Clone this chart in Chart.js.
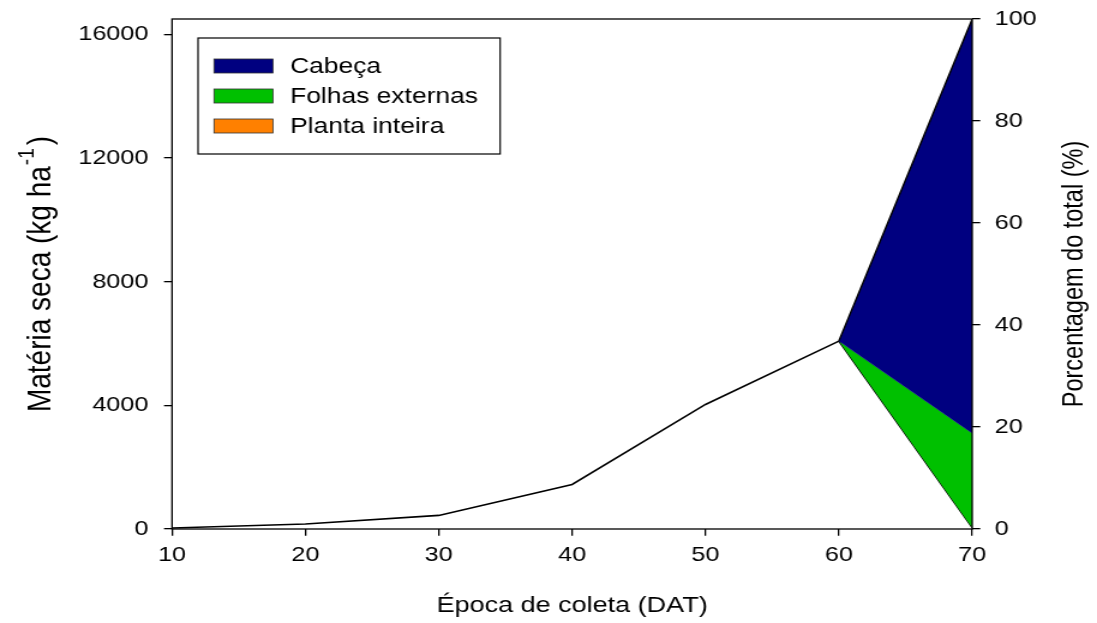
<!DOCTYPE html>
<html>
<head>
<meta charset="utf-8">
<script src="https://cdn.jsdelivr.net/npm/chart.js@4.4.1/dist/chart.umd.min.js"></script>
<style>
  html, body { margin: 0; padding: 0; background: #fff; }
  /* the original figure is stretched ~1.2x horizontally */
  #chart { display: block; width: 1097px !important; height: 623px !important; }
</style>
</head>
<body>
<canvas id="chart" width="914" height="623"></canvas>
<script>
// Época de coleta (DAT)
const dat = [10, 20, 30, 40, 50, 60, 70];
// Matéria seca, planta inteira (kg/ha), up to 60 DAT
const plantaInteira = [30, 160, 440, 1440, 4030, 6080];
// at 60 and 70 DAT: stacked boundaries of the split
const splitDat = [60, 70];
const cabecaTop = [6080, 16500];
const folhasTop = [6080, 3100];
const folhasBase = [6080, 40];

const leftTicks = [0, 4000, 8000, 12000, 16000];
const rightTicks = [0, 20, 40, 60, 80, 100];

const FONT = '"Liberation Sans", Arial, sans-serif';
const legendItems = [
  { label: 'Cabeça', color: '#000080' },
  { label: 'Folhas externas', color: '#00c000' },
  { label: 'Planta inteira', color: '#ff8000' }
];

const pts = (xs, ys) => ys.map((y, i) => ({ x: xs[i], y: y }));

// frame, axis titles and legend box
const decorations = {
  id: 'decorations',
  afterDraw(chart) {
    const { ctx, chartArea: a } = chart;
    ctx.save();
    ctx.strokeStyle = '#000';
    ctx.lineWidth = 1.3;
    ctx.strokeRect(a.left, a.top, a.right - a.left, a.bottom - a.top);

    // x title
    ctx.fillStyle = '#000';
    ctx.font = '22.5px ' + FONT;
    ctx.textAlign = 'center';
    ctx.textBaseline = 'alphabetic';
    ctx.fillText('Época de coleta (DAT)', (a.left + a.right) / 2, 612);

    const cy = (a.top + a.bottom) / 2;

    // left title with superscript
    ctx.save();
    ctx.translate(41.5, cy);
    ctx.rotate(-Math.PI / 2);
    const main = 'Matéria seca (kg ha';
    ctx.font = '28px ' + FONT;
    const w1 = ctx.measureText(main).width;
    ctx.font = '19px ' + FONT;
    const w2 = ctx.measureText('-1').width;
    ctx.font = '28px ' + FONT;
    const w3 = ctx.measureText(')').width;
    let x0 = -(w1 + w2 + w3 + 4) / 2;
    ctx.textAlign = 'left';
    ctx.fillText(main, x0, 0);
    ctx.font = '19px ' + FONT;
    ctx.fillText('-1', x0 + w1 + 1, -14);
    ctx.font = '28px ' + FONT;
    ctx.fillText(')', x0 + w1 + w2 + 4, 0);
    ctx.restore();

    // right title
    ctx.save();
    ctx.translate(901.5, cy);
    ctx.rotate(-Math.PI / 2);
    ctx.font = '23.5px ' + FONT;
    ctx.textAlign = 'center';
    ctx.fillText('Porcentagem do total (%)', 0, 0);
    ctx.restore();

    // legend
    ctx.lineWidth = 1.2;
    ctx.fillStyle = '#fff';
    ctx.fillRect(165, 38, 251.7, 116);
    ctx.strokeRect(165, 38, 251.7, 116);
    ctx.font = '22px ' + FONT;
    ctx.textAlign = 'left';
    ctx.textBaseline = 'middle';
    legendItems.forEach((item, i) => {
      const y = 66 + i * 30;
      ctx.fillStyle = item.color;
      ctx.fillRect(178.3, y - 7, 49.2, 14);
      ctx.lineWidth = 0.8;
      ctx.strokeStyle = '#333';
      ctx.strokeRect(178.3, y - 7, 49.2, 14);
      ctx.fillStyle = '#000';
      ctx.fillText(item.label, 241.7, y + 1);
    });
    ctx.restore();
  }
};

const tickFont = { family: FONT, size: 21 };
const plain = (v) => String(v);
const grid = { display: true, drawOnChartArea: false, drawTicks: true, tickLength: 6.7, color: '#000', lineWidth: 1.3 };
const noPad = (s) => { s.paddingTop = 0; s.paddingBottom = 0; s.paddingLeft = 0; s.paddingRight = 0; };

new Chart(document.getElementById('chart'), {
  type: 'line',
  data: {
    datasets: [
      {
        label: 'Cabeça',
        data: pts(splitDat, cabecaTop),
        borderColor: '#000',
        borderWidth: 1.4,
        backgroundColor: '#000080',
        fill: '+1',
        pointRadius: 0,
        tension: 0
      },
      {
        label: 'Folhas externas',
        data: pts(splitDat, folhasTop),
        borderColor: '#000080',
        borderWidth: 0.5,
        backgroundColor: '#00c000',
        fill: '+1',
        pointRadius: 0,
        tension: 0
      },
      {
        label: 'base',
        data: pts(splitDat, folhasBase),
        borderColor: '#000',
        borderWidth: 1.4,
        fill: false,
        pointRadius: 0,
        tension: 0
      },
      {
        label: 'Planta inteira',
        data: pts(dat, plantaInteira),
        borderColor: '#000',
        borderWidth: 1.6,
        backgroundColor: '#ff8000',
        fill: false,
        pointRadius: 0,
        tension: 0
      }
    ]
  },
  options: {
    responsive: false,
    animation: false,
    events: [],
    layout: { padding: { top: 19, left: 0, right: 0, bottom: 0 } },
    plugins: {
      legend: { display: false },
      tooltip: { enabled: false }
    },
    scales: {
      x: {
        type: 'linear',
        min: 10,
        max: 70,
        afterBuildTicks: (s) => { s.ticks = dat.map(v => ({ value: v })); },
        afterFit: (s) => { s.height = 94; noPad(s); },
        border: { display: false },
        grid: grid,
        ticks: { color: '#000', font: tickFont, padding: 7, maxRotation: 0, callback: plain }
      },
      y: {
        position: 'left',
        min: 0,
        max: 16500,
        afterBuildTicks: (s) => { s.ticks = leftTicks.map(v => ({ value: v })); },
        afterFit: (s) => { s.width = 143.33; noPad(s); },
        border: { display: false },
        grid: grid,
        ticks: { color: '#000', font: tickFont, padding: 13, callback: plain }
      },
      y1: {
        position: 'right',
        min: 0,
        max: 100,
        afterBuildTicks: (s) => { s.ticks = rightTicks.map(v => ({ value: v })); },
        afterFit: (s) => { s.width = 104; noPad(s); },
        border: { display: false },
        grid: grid,
        ticks: { color: '#000', font: tickFont, padding: 12, callback: plain }
      }
    }
  },
  plugins: [decorations]
});
</script>
</body>
</html>
